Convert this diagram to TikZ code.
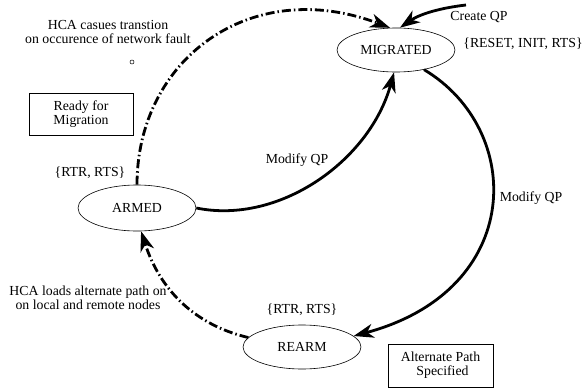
\documentclass[tikz,border=0pt]{standalone}
\usepackage{fontspec}
\setmainfont{Liberation Serif}
\usetikzlibrary{shapes.geometric,arrows.meta}
\tikzset{
  state/.style={draw, ellipse, line width=0.6pt, inner sep=0pt, minimum width=118pt, minimum height=44pt, font=\fontsize{13.8}{15}\selectfont},
  notebox/.style={draw, rectangle, line width=0.6pt, inner sep=0pt, align=center, font=\fontsize{13.8}{14}\selectfont},
  lbl/.style={inner sep=0pt, align=center, font=\fontsize{13.8}{13.5}\selectfont},
  solidarr/.style={line width=2.8pt, -{Stealth[length=20pt, width=14pt, inset=6pt]}},
  dasharr/.style={line width=2.8pt, dash pattern=on 9pt off 3pt on 1.5pt off 3pt, -{Stealth[length=20pt, width=14pt, inset=6pt]}},
}
\begin{document}
\begin{tikzpicture}[x=1pt,y=-1pt]
\useasboundingbox (0,0) rectangle (584,391);
% states
\node[state] (mig) at (396,50) {MIGRATED};
\node[state, minimum height=46pt] (armed) at (137,208) {ARMED};
\node[state] (rearm) at (302,347) {REARM};
% boxes
\node[notebox, minimum width=104pt, minimum height=42pt] (ready) at (81,114) {Ready for\\Migration};
\node[notebox, minimum width=105pt, minimum height=43pt] (alt) at (440.5,365.5) {Alternate Path\\\hspace*{4pt}Specified};
% labels
\node[lbl] (l1) at (108,32) {HCA casues transtion\\on occurence of network fault};
\node[draw, circle, line width=0.5pt, inner sep=0pt, minimum size=4pt] (dot) at (132,62) {};
\node[lbl] (l2) at (479,17) {Create QP};
\node[lbl] (l3) at (523,44) {\{RESET, INIT, RTS\}};
\node[lbl] (l4) at (90,173) {\{RTR, RTS\}};
\node[lbl] (l5) at (297,160) {Modify QP};
\node[lbl] (l6) at (531,198) {Modify QP};
\node[lbl] (l7) at (302,310) {\{RTR, RTS\}};
\node[lbl] (l8) at (88,298) {HCA loads alternate path on\\on local and remote nodes};
% connectors
\coordinate (cq) at (466,5);
\draw[dasharr] (armed.north) .. controls (137,60) and (250,-25) .. (mig.105);
\draw[solidarr] (cq) .. controls (440,8) and (420,14) .. (mig.80);
\draw[solidarr] (armed.east) .. controls (280,225) and (370,160) .. (mig.265);
\draw[solidarr] (mig.-35) .. controls (525,130) and (525,290) .. (rearm.12);
\draw[dasharr] (rearm.170) .. controls (195,325) and (160,290) .. (armed.-80);
\end{tikzpicture}
\end{document}
